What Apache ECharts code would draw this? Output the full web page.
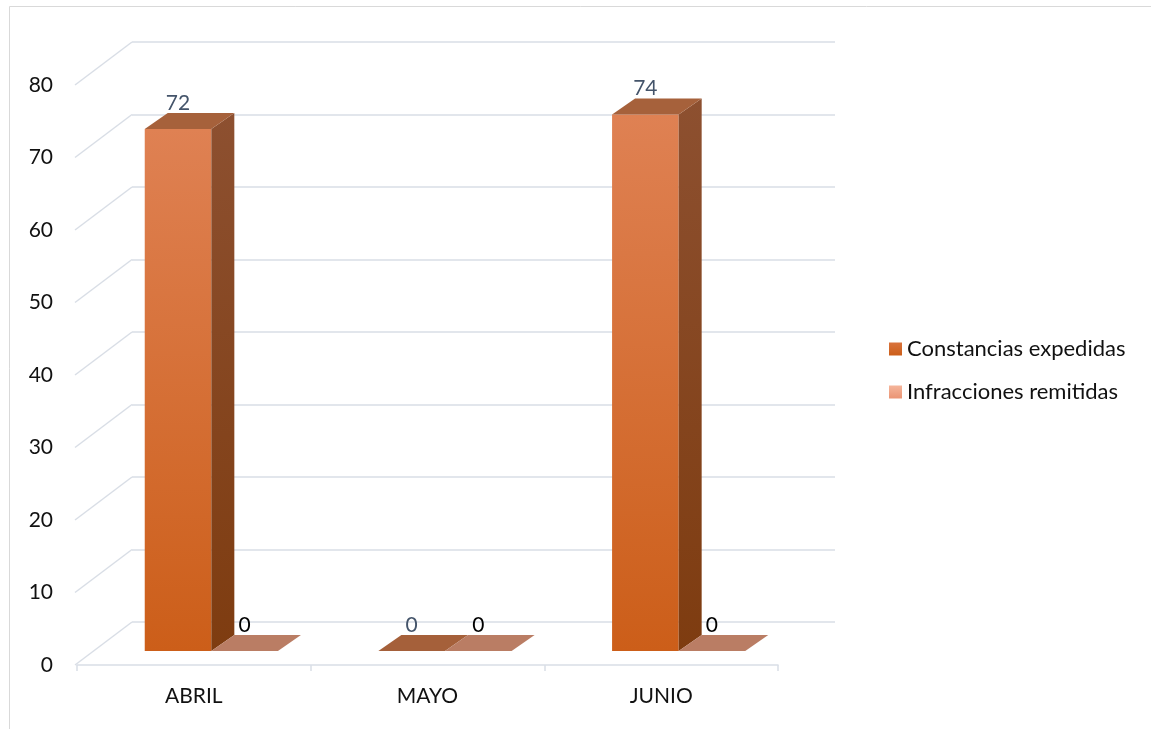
<!DOCTYPE html>
<html>
<head>
<meta charset="utf-8">
<script src="https://cdn.jsdelivr.net/npm/echarts@6/dist/echarts.min.js"></script>
<style>
html,body{margin:0;padding:0;background:#fff;}
#chart{width:1151px;height:729px;}
</style>
</head>
<body>
<div id="chart"></div>
<script>
const categories = ['ABRIL', 'MAYO', 'JUNIO'];
const constancias = [72, 0, 74];
const infracciones = [0, 0, 0];
const yTicks = [0, 10, 20, 30, 40, 50, 60, 70, 80];
const seriesNames = ['Constancias expedidas', 'Infracciones remitidas'];

const FONT = 'Lato, "Open Sans", "DejaVu Sans", sans-serif';
const GRID_COLOR = '#D9DEE6';
const DEPTH_X = 55, DEPTH_Y = -43;

const styles = [
  {
    front: new echarts.graphic.LinearGradient(0, 0, 0, 1, [{offset: 0, color: '#DF8153'}, {offset: 1, color: '#CC5E19'}]),
    side: new echarts.graphic.LinearGradient(0, 0, 0, 1, [{offset: 0, color: '#8D5030'}, {offset: 1, color: '#7E3C10'}]),
    top: '#A6613B',
    flat: '#A5603A',
    label: '#44546A',
    legend: new echarts.graphic.LinearGradient(0, 0, 0, 1, [{offset: 0, color: '#D9733C'}, {offset: 1, color: '#CC5E19'}])
  },
  {
    front: new echarts.graphic.LinearGradient(0, 0, 0, 1, [{offset: 0, color: '#F4B49A'}, {offset: 1, color: '#E8916E'}]),
    side: '#B06E55',
    top: '#BA7D64',
    flat: '#BA7D64',
    label: '#000000',
    legend: new echarts.graphic.LinearGradient(0, 0, 0, 1, [{offset: 0, color: '#F5B59B'}, {offset: 1, color: '#EA9474'}])
  }
];

function barRender(sIdx) {
  return function (params, api) {
    const i = api.value(0), v = api.value(1);
    const base = api.coord([i, 0]);
    const topP = api.coord([i, v]);
    const bw = api.size([1, 0])[0];
    const w = bw * 0.285;
    const ox = 17.5, oy = -14, dx = 23, dy = -16;
    const x0 = sIdx === 0 ? base[0] + ox - w : base[0] + ox;
    const yb = base[1] + oy;
    const yt = topP[1] + oy;
    const st = styles[sIdx];
    const children = [];
    if (yb - yt > 0.5) {
      children.push({type: 'rect', shape: {x: x0, y: yt, width: w, height: yb - yt}, style: {fill: st.front}});
      children.push({type: 'polygon', shape: {points: [[x0 + w, yt], [x0 + w + dx, yt + dy], [x0 + w + dx, yb + dy], [x0 + w, yb]]}, style: {fill: st.side}});
      children.push({type: 'polygon', shape: {points: [[x0, yt], [x0 + dx, yt + dy], [x0 + w + dx, yt + dy], [x0 + w, yt]]}, style: {fill: st.top}});
    } else {
      children.push({type: 'polygon', shape: {points: [[x0, yt], [x0 + dx, yt + dy], [x0 + w + dx, yt + dy], [x0 + w, yt]]}, style: {fill: st.flat}});
    }
    children.push({type: 'text', style: {text: String(v), x: x0 + w / 2, y: yt - 26, align: 'center', verticalAlign: 'middle', fill: st.label, font: '21px ' + FONT}});
    return {type: 'group', children: children};
  };
}

const chart = echarts.init(document.getElementById('chart'));
chart.setOption({
  backgroundColor: '#ffffff',
  animation: false,
  graphic: [{
    type: 'rect', left: 7, top: 4, shape: {width: 1300, height: 900},
    style: {fill: 'none', stroke: '#D9D9D9', lineWidth: 1}, silent: true, z: -10
  }],
  legend: {
    orient: 'vertical', left: 884, top: 333, itemWidth: 13, itemHeight: 13, itemGap: 21,
    icon: 'rect',
    textStyle: {fontFamily: FONT, fontSize: 22, color: '#111'},
    data: seriesNames
  },
  grid: [
    {left: 132, top: 42, width: 703, height: 580},
    {left: 77, top: 85, width: 701, height: 580}
  ],
  xAxis: [
    {type: 'category', gridIndex: 0, data: categories, show: false},
    {type: 'category', gridIndex: 1, data: categories,
     axisLine: {lineStyle: {color: GRID_COLOR, width: 1.5}},
     axisTick: {show: true, length: 6, lineStyle: {color: GRID_COLOR, width: 1.5}},
     axisLabel: {fontFamily: FONT, fontSize: 21, color: '#111', margin: 21}}
  ],
  yAxis: [
    {type: 'value', gridIndex: 0, min: 0, max: 80, interval: 10,
     axisLine: {show: false}, axisTick: {show: false}, axisLabel: {show: false},
     splitLine: {show: true, lineStyle: {color: GRID_COLOR, width: 1.5}}},
    {type: 'value', gridIndex: 1, min: 0, max: 80, interval: 10,
     axisLine: {show: false}, axisTick: {show: false}, splitLine: {show: false},
     axisLabel: {fontFamily: FONT, fontSize: 21, color: '#111', margin: 24}}
  ],
  series: [
    {
      type: 'custom', name: 'diagonals', xAxisIndex: 1, yAxisIndex: 1, silent: true,
      data: yTicks.map(t => [0, t]),
      renderItem: function (params, api) {
        const p = api.coord([0, api.value(1)]);
        const x = params.coordSys.x;
        return {type: 'line', shape: {x1: x - 2, y1: p[1], x2: x + DEPTH_X, y2: p[1] + DEPTH_Y},
                style: {stroke: GRID_COLOR, lineWidth: 1.5}};
      },
      z: 1
    },
    {
      type: 'custom', name: seriesNames[0], xAxisIndex: 1, yAxisIndex: 1,
      itemStyle: {color: styles[0].legend},
      data: constancias.map((v, i) => [i, v]),
      renderItem: barRender(0), z: 3
    },
    {
      type: 'custom', name: seriesNames[1], xAxisIndex: 1, yAxisIndex: 1,
      itemStyle: {color: styles[1].legend},
      data: infracciones.map((v, i) => [i, v]),
      renderItem: barRender(1), z: 4
    }
  ]
});
</script>
</body>
</html>
